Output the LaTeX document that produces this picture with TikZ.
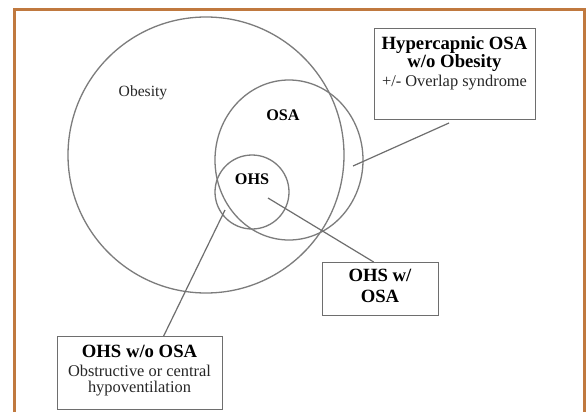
\documentclass[tikz,border=0pt]{standalone}
\usepackage{fontspec}
\setmainfont{Liberation Serif}
\usetikzlibrary{shapes.geometric}
\definecolor{framec}{HTML}{C0793F}
\definecolor{ringc}{HTML}{7C7C7C}
\definecolor{boxc}{HTML}{6E6E6E}
\begin{document}
\begin{tikzpicture}[x=1pt,y=-1pt,
  ringline/.style={draw=ringc, line width=1.3pt, inner sep=0pt},
  lbox/.style={draw=boxc, line width=1.3pt, inner sep=0pt, anchor=north west},
  btxt/.style={font=\fontsize{18.7}{20}\selectfont\bfseries, inner sep=0pt, text height=12pt, text depth=4pt},
  rtxt/.style={font=\fontsize{16.4}{18}\selectfont, inner sep=0pt, text height=11pt, text depth=3.5pt, text=black!85},
  ctxt/.style={font=\fontsize{16.2}{18}\selectfont\bfseries, inner sep=0pt, text height=11pt, text depth=3.5pt},
  conn/.style={draw=boxc, line width=1.2pt}]
\useasboundingbox (0,0) rectangle (588,412);
\fill[white] (0,0) rectangle (588,412);
\draw[framec, line width=3pt] (14,412) -- (14,10) -- (584,10) -- (584,412);

% circles
\node[ringline, circle, minimum size=276pt] (obesity) at (206,155) {};
\node[ringline, ellipse, minimum width=148pt, minimum height=160pt] (osa) at (289,160) {};
\node[ringline, circle, minimum size=74pt] (ohs) at (252,192) {};

\node[rtxt, font=\fontsize{15.6}{18}\selectfont] (obesitylbl) at (143,93) {Obesity};
\node[ctxt] (osalbl) at (283,117) {OSA};
\node[ctxt] (ohslbl) at (252,181) {OHS};

% box: hypercapnic OSA
\node[lbox, minimum width=161pt, minimum height=91pt] (hyp) at (374,28) {};
\node[btxt] (hyp1) at (454.5,45) {Hypercapnic OSA};
\node[btxt] (hyp2) at (454.5,63) {w/o Obesity};
\node[rtxt] (hyp3) at (454.5,83) {+/- Overlap syndrome};

% box: OHS w/ OSA
\node[lbox, minimum width=116pt, minimum height=53pt] (ohsw) at (322,262) {};
\node[btxt] (ohsw1) at (380,277) {OHS w/};
\node[btxt] (ohsw2) at (380,298) {OSA};

% box: OHS w/o OSA
\node[lbox, minimum width=165pt, minimum height=73pt] (ohswo) at (57,336) {};
\node[btxt] (ohswo1) at (139.5,353) {OHS w/o OSA};
\node[rtxt] (ohswo2) at (139.5,373) {Obstructive or central};
\node[rtxt] (ohswo3) at (139.5,389) {hypoventilation};

% connectors
\coordinate (hypend) at (449,123);
\coordinate (crescent) at (353,166);
\coordinate (ohsin) at (268,198);
\coordinate (ohsedge) at (225,210);
\draw[conn] (hypend) -- (crescent);
\draw[conn] ([xshift=-7pt]ohsw.north) -- (ohsin);
\draw[conn] ([xshift=23.5pt]ohswo.north) -- (ohsedge);
\end{tikzpicture}
\end{document}
